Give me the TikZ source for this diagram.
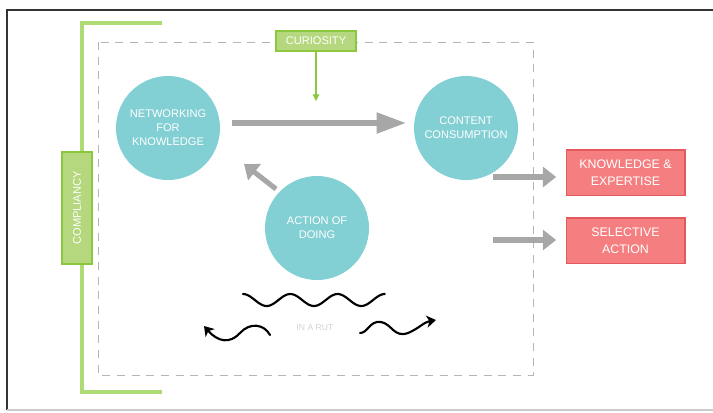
\documentclass[tikz,border=0pt]{standalone}
\usepackage{fontspec}
\setmainfont{Liberation Sans}
\usepackage{tikz}
\usetikzlibrary{arrows.meta,positioning,calc}
\definecolor{Ink}{HTML}{333333}
\definecolor{Muted}{HTML}{A7A7A7}
\definecolor{Dash}{HTML}{B5B5B5}
\definecolor{Teal}{HTML}{82CFD4}
\definecolor{Leaf}{HTML}{8DC63F}
\definecolor{LeafSoft}{HTML}{B5D77E}
\definecolor{LeafLine}{HTML}{AEDB74}
\definecolor{Coral}{HTML}{E45A5C}
\definecolor{CoralSoft}{HTML}{F57E80}
\tikzset{
  bubble/.style={circle,fill=Teal,minimum size=78pt,inner sep=0pt,align=center,text=white,font=\fontsize{8.3}{10.5}\selectfont},
  tagbox/.style={draw=Leaf,line width=1pt,fill=LeafSoft,text=white,inner sep=0pt,font=\fontsize{8.3}{9}\selectfont},
  outbox/.style={draw=Coral,line width=1pt,fill=CoralSoft,text=white,minimum width=89pt,minimum height=34pt,align=center,inner sep=0pt,font=\fontsize{9.3}{13}\selectfont},
  arrow/.style={-{Triangle[length=10pt,width=15pt]},line width=3.8pt,draw=Muted},
  bigArrow/.style={arrow,-{Triangle[length=22pt,width=15pt]}},
  wave/.style={line width=1.6pt,draw=black,line cap=round},
  waveArrow/.style={wave,-{Stealth[length=7pt,width=9pt,inset=2pt]}}
}
\begin{document}
\begin{tikzpicture}[x=0.75pt,y=-0.75pt]
  \useasboundingbox (0,0) rectangle (713,412);
  % frame
  \draw[Ink,line width=1.3pt] (7,410) -- (7,10) -- (713,10);
  \draw[Dash!70,line width=1.2pt] (7,410) -- (713,410);
  % bracket and dashed field
  \draw[LeafLine,line width=2.6pt] (162,23) -- (82,23) -- (82,392) -- (162,392);
  \draw[Dash,dashed,line width=0.6pt,dash pattern=on 6pt off 5pt] (98,42) rectangle (533,375);
  % tags
  \node[tagbox,minimum width=60pt,minimum height=15pt] (cur) at (316,41) {CURIOSITY};
  \node[tagbox,minimum width=84pt,minimum height=22.5pt,rotate=90] (comp) at (77,208) {COMPLIANCY};
  % circles
  \node[bubble] (net) at (168,128) {NETWORKING\\FOR\\KNOWLEDGE};
  \node[bubble] (con) at (466,128) {CONTENT\\CONSUMPTION};
  \node[bubble] (act) at (317,228) {ACTION OF\\DOING};
  % outputs
  \node[outbox] (know) at (625.5,172.5) {KNOWLEDGE \&\\EXPERTISE};
  \node[outbox] (sel) at (625.5,240.5) {SELECTIVE\\ACTION};
  % arrows
  \coordinate (curEnd) at (316,101);
  \draw[-{Triangle[length=5pt,width=5pt]},draw=Leaf,fill=Leaf,line width=0.8pt] (cur.south) -- (curEnd);
  \coordinate (netOut) at (232,123);
  \coordinate (conIn) at (406,123);
  \draw[bigArrow] (netOut) -- (conIn);
  \coordinate (actOut) at (276,189);
  \coordinate (netIn) at (244,164);
  \draw[arrow] (actOut) -- (netIn);
  \coordinate (knowOut) at (493,177);
  \coordinate (selOut) at (493,240);
  \draw[arrow,shorten >=7pt] (knowOut) -- (knowOut -| know.west);
  \draw[arrow,shorten >=7pt] (selOut) -- (selOut -| sel.west);
  % waves
  \draw[wave] plot[domain=0:3,samples=80] ({243+\x*47.3},{300-6*cos(360*\x)});
  \coordinate (leftTip) at (204,326);
  \coordinate (rightTip) at (436,320);
  \draw[waveArrow] (270,335) .. controls (264,324) and (250,322) .. (240,333) .. controls (230,344) and (218,342) .. (leftTip);
  \draw[waveArrow] (360,333) .. controls (368,333) and (370,320) .. (381,322) .. controls (392,324) and (394,338) .. (408,333) .. controls (418,329) and (424,322) .. (rightTip);
  \node[text=Dash!60,font=\fontsize{6.5}{8}\selectfont] (rut) at (315,328) {IN A RUT};
\end{tikzpicture}
\end{document}
